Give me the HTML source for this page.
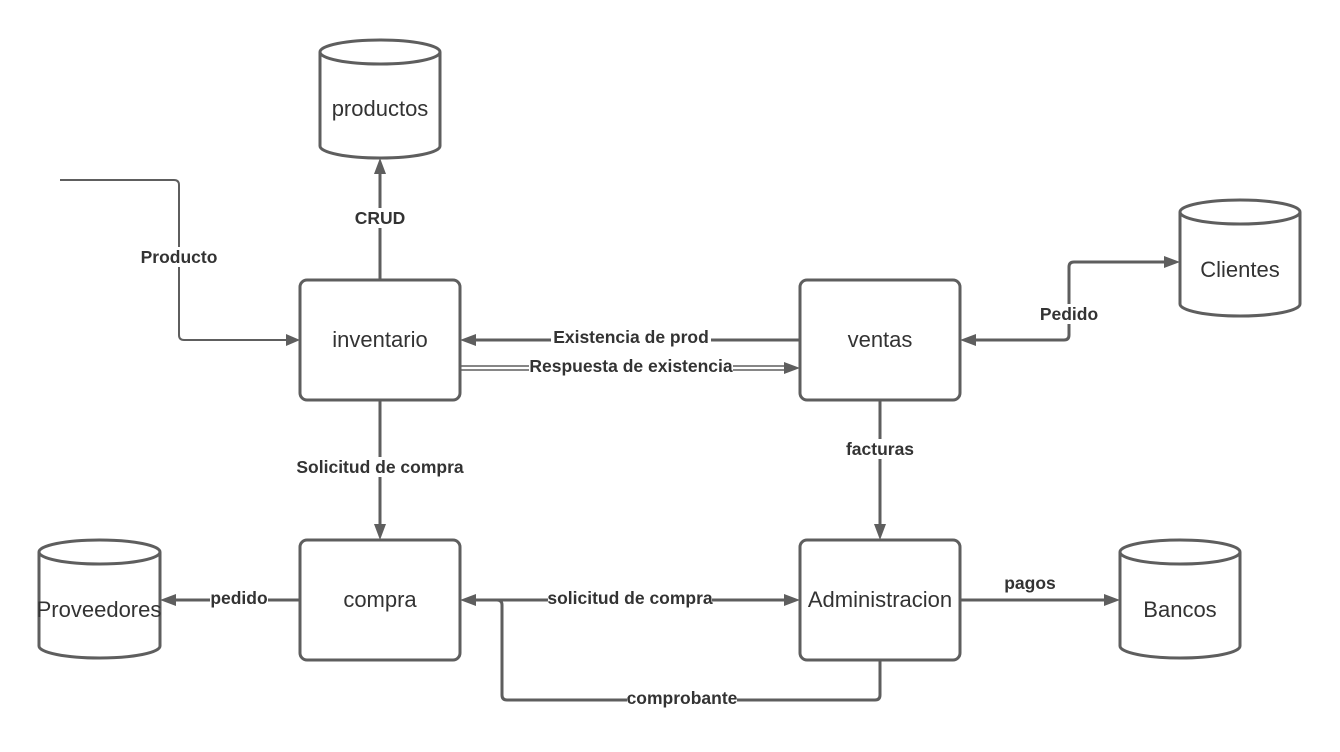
<!DOCTYPE html>
<html><head><meta charset="utf-8"><style>
html,body{margin:0;padding:0;background:#fff;}
svg{display:block}
.b{font-family:"Liberation Sans",Arial,sans-serif;font-weight:bold;font-size:17.5px;fill:#333;text-anchor:middle}
.n{font-family:"Liberation Sans",Arial,sans-serif;font-size:22px;fill:#333;text-anchor:middle}
.lbg{fill:#fff}
</style></head><body>
<svg width="1340" height="752" viewBox="0 0 1340 752" xmlns="http://www.w3.org/2000/svg">
<g fill="none" stroke="#5e5e5e" stroke-width="3" stroke-linejoin="round">
<rect x="300" y="280" width="160" height="120" rx="7"/>
<rect x="800" y="280" width="160" height="120" rx="7"/>
<rect x="300" y="540" width="160" height="120" rx="7"/>
<rect x="800" y="540" width="160" height="120" rx="7"/>
<path d="M320 52 V146 A60 12 0 0 0 440 146 V52"/><ellipse cx="380" cy="52" rx="60" ry="12"/>
<path d="M1180 212 V304 A60 12 0 0 0 1300 304 V212"/><ellipse cx="1240" cy="212" rx="60" ry="12"/>
<path d="M39 552 V646 A60.5 12 0 0 0 160 646 V552"/><ellipse cx="99.5" cy="552" rx="60.5" ry="12"/>
<path d="M1120 552 V646 A60 12 0 0 0 1240 646 V552"/><ellipse cx="1180" cy="552" rx="60" ry="12"/>
<path d="M60 180 H174 Q179 180 179 185 V335 Q179 340 184 340 H288" stroke-width="2"/>
<path d="M380 280 V172"/>
<path d="M800 340 H474"/>
<path d="M460 366 H786 M460 370 H786" stroke-width="1.6"/>
<path d="M380 400 V526"/>
<path d="M880 400 V526"/>
<path d="M974 340 H1064 Q1069 340 1069 335 V267 Q1069 262 1074 262 H1166"/>
<path d="M300 600 H174"/>
<path d="M474 600 H786"/>
<path d="M880 660 V695 Q880 700 875 700 H507 Q502 700 502 695 V605 Q502 600 497 600"/>
<path d="M960 600 H1106"/>
</g>
<g fill="#5e5e5e">
<polygon points="300,340 286,334 286,346"/>
<polygon points="380,158 374,174 386,174"/>
<polygon points="460,340 476,334 476,346"/>
<polygon points="800,368 784,362 784,374"/>
<polygon points="380,540 374,524 386,524"/>
<polygon points="880,540 874,524 886,524"/>
<polygon points="960,340 976,334 976,346"/>
<polygon points="1180,262 1164,256 1164,268"/>
<polygon points="160,600 176,594 176,606"/>
<polygon points="460,600 476,594 476,606"/>
<polygon points="800,600 784,594 784,606"/>
<polygon points="1120,600 1104,594 1104,606"/>
</g>
<g class="lbg">
<rect x="140" y="247" width="78" height="20"/>
<rect x="354" y="208" width="52" height="20"/>
<rect x="551" y="327" width="160" height="20"/>
<rect x="529" y="356" width="204" height="20"/>
<rect x="296" y="457" width="168" height="20"/>
<rect x="846" y="439" width="68" height="20"/>
<rect x="1040" y="304" width="58" height="20"/>
<rect x="210" y="588" width="58" height="20"/>
<rect x="548" y="588" width="164" height="20"/>
<rect x="627" y="688" width="110" height="20"/>
</g>
<g class="b">
<text x="179" y="263">Producto</text>
<text x="380" y="224">CRUD</text>
<text x="631" y="343">Existencia de prod</text>
<text x="631" y="372">Respuesta de existencia</text>
<text x="380" y="473">Solicitud de compra</text>
<text x="880" y="455">facturas</text>
<text x="1069" y="320">Pedido</text>
<text x="239" y="604">pedido</text>
<text x="630" y="604">solicitud de compra</text>
<text x="682" y="704">comprobante</text>
<text x="1030" y="589">pagos</text>
</g>
<g class="n">
<text x="380" y="347">inventario</text>
<text x="880" y="347">ventas</text>
<text x="380" y="607">compra</text>
<text x="880" y="607">Administracion</text>
<text x="380" y="116">productos</text>
<text x="1240" y="277">Clientes</text>
<text x="99" y="617">Proveedores</text>
<text x="1180" y="617">Bancos</text>
</g>
</svg>
</body></html>
